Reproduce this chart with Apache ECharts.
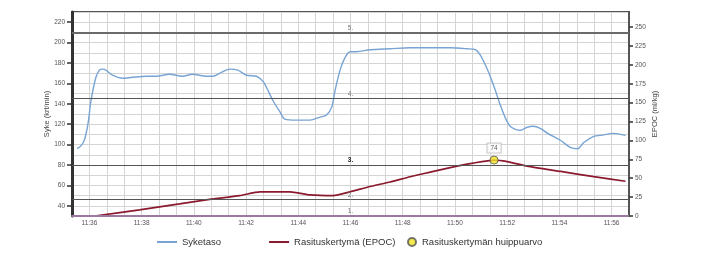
<!DOCTYPE html>
<html>
<head>
<meta charset="utf-8">
<script src="https://cdn.jsdelivr.net/npm/echarts@6/dist/echarts.min.js"></script>
<style>
html,body{margin:0;padding:0;background:#fff;}
#c{width:706px;height:262px;}
</style>
</head>
<body>
<div id="c"></div>
<script>
// ---- data ----
const hrTimes = ['11:35:32','11:35:41','11:35:48','11:35:54','11:35:58','11:36:04','11:36:15','11:36:23','11:36:30','11:36:38',
  '11:36:53','11:37:16','11:37:39','11:38:11','11:38:34','11:39:04','11:39:34','11:39:57','11:40:29','11:40:43',
  '11:41:04','11:41:22','11:41:41','11:42:01','11:42:24','11:42:39','11:42:47','11:43:02','11:43:18','11:43:29',
  '11:43:56','11:44:27','11:44:50','11:45:05','11:45:17','11:45:24','11:45:36','11:45:47','11:45:59','11:46:14',
  '11:46:45','11:47:31','11:48:17','11:49:03','11:49:49','11:50:28','11:50:47','11:50:58','11:51:10','11:51:21',
  '11:51:33','11:51:44','11:51:56','11:52:07','11:52:19','11:52:30','11:52:46','11:53:00','11:53:16','11:53:33',
  '11:54:03','11:54:26','11:54:42','11:54:56','11:55:19','11:55:35','11:56:05','11:56:32'];
const hrValues = [96,99,104,114,124,144,166,173,174,173,
  168,165,166,167,167,169,167,169,167,167,
  171,174,173,168,167,162,156,143,132,125,
  124,124,127,129,137,152,173,185,191,191,
  193,194,195,195,195,194,193,188,178,167,
  153,139,126,118,115,114,117,118,116,111,
  104,97,96,102,108,109,111,109];

const epocTimes = ['11:36:12','11:37:55','11:39:27','11:40:36','11:41:45','11:42:32','11:43:41','11:44:27','11:45:20','11:45:59',
  '11:46:45','11:47:31','11:48:17','11:49:03','11:49:49','11:50:42','11:51:30','11:52:00','11:52:46','11:54:03',
  '11:55:19','11:56:32'];
const epocValues = [0,8,16,22,27,32,32,28,27,32,
  39,45,52,58,64,70,74,72,66,59,
  52,46];

const peakTime = '11:51:30';
const peakValue = 74;

const zoneValues = [210,145,80,46,30];
const zoneNames = ['5.','4.','3.','2.','1.'];

const hrTicks = [40,60,80,100,120,140,160,180,200,220];
const epocTicks = [0,25,50,75,100,125,150,175,200,225,250];

const xStart = '11:35:20';
const xEnd = '11:56:40';

const seriesNames = ['Syketaso','Rasituskertymä (EPOC)','Rasituskertymän huippuarvo'];

// ---- helpers ----
function toSec(t){const p=t.split(':').map(Number);return p[0]*3600+p[1]*60+p[2];}
function fmt(v){const h=Math.floor(v/3600),m=Math.floor((v%3600)/60);return h+':'+(m<10?'0':'')+m;}
const zip=(ts,vs)=>ts.map((t,i)=>[toSec(t),vs[i]]);

const FONT='"Liberation Sans", Arial, sans-serif';
const chart = echarts.init(document.getElementById('c'), null, {renderer:'canvas'});

const zoneData = zoneValues.map((v,i)=>{
  const o={yAxis:v,label:{formatter:zoneNames[i]}};
  if(i===0){o.lineStyle={width:2,color:'#6a6a6a'};}
  if(i===2){o.label={formatter:zoneNames[i],fontWeight:'bold',color:'#222'};}
  if(i===4){o.lineStyle={width:2,color:'#9a7a9e'};}
  return o;
});

chart.setOption({
  animation:false,
  backgroundColor:'#fff',
  textStyle:{fontFamily:FONT},
  grid:{left:72,right:77,top:12,bottom:46,show:true,borderColor:'#555',borderWidth:2,backgroundColor:'transparent'},
  legend:[{
    left:152,top:232,itemWidth:20,itemHeight:2,itemGap:48,icon:'rect',
    textStyle:{fontSize:9.5,color:'#333',fontFamily:FONT},
    data:[seriesNames[0],seriesNames[1]]
  },{
    left:402,top:232,itemWidth:10,itemHeight:8,
    textStyle:{fontSize:9.5,color:'#333',fontFamily:FONT},
    data:[{name:seriesNames[2],icon:'circle'}]
  }],
  xAxis:{
    type:'value',min:toSec(xStart),max:toSec(xEnd),interval:40,
    axisLine:{show:true,lineStyle:{color:'#9a7a9e',width:2}},
    axisTick:{show:false},
    axisLabel:{fontSize:6.5,color:'#555',margin:4,formatter:v=>(v%120===0?fmt(v):'')},
    splitLine:{show:true,lineStyle:{color:'#d4d4d4',width:1}}
  },
  yAxis:[{
    type:'value',position:'left',min:30,max:230,
    name:'Syke (krt/min)',nameLocation:'middle',nameRotate:90,nameGap:21,nameMoveOverlap:false,
    nameTextStyle:{fontSize:7.5,color:'#444'},
    axisLine:{show:true,lineStyle:{color:'#333',width:3}},
    axisTick:{show:true,length:5,customValues:hrTicks,lineStyle:{color:'#333',width:1.5}},
    axisLabel:{fontSize:6.5,color:'#555',margin:7,customValues:hrTicks},
    splitLine:{show:false}
  },{
    type:'value',position:'right',min:0,max:270,
    name:'EPOC (ml/kg)',nameLocation:'middle',nameRotate:90,nameGap:22,nameMoveOverlap:false,
    nameTextStyle:{fontSize:7.5,color:'#444'},
    axisLine:{show:true,lineStyle:{color:'#555',width:2}},
    axisTick:{show:true,length:4,customValues:epocTicks,lineStyle:{color:'#333',width:1.5}},
    axisLabel:{fontSize:6.5,color:'#555',margin:6,customValues:epocTicks},
    splitLine:{show:false}
  },{
    type:'value',position:'left',min:30,max:230,interval:10,
    axisLine:{show:false},axisTick:{show:false},axisLabel:{show:false},
    splitLine:{show:true,lineStyle:{color:'#d4d4d4',width:1}}
  }],
  series:[{
    name:seriesNames[0],type:'line',yAxisIndex:0,symbol:'none',smooth:0.3,
    lineStyle:{color:'#78a4d4',width:1.4},itemStyle:{color:'#78a4d4'},
    data:zip(hrTimes,hrValues),z:3,
    markLine:{
      silent:true,symbol:'none',
      lineStyle:{type:'solid',color:'#555',width:1},
      label:{position:'middle',fontSize:6.5,color:'#777',distance:1},
      data:zoneData
    }
  },{
    name:seriesNames[1],type:'line',yAxisIndex:1,symbol:'none',smooth:0.2,
    lineStyle:{color:'#8b1a2e',width:1.7},itemStyle:{color:'#8b1a2e'},
    data:zip(epocTimes,epocValues),z:4
  },{
    name:seriesNames[2],type:'scatter',yAxisIndex:1,symbol:'circle',symbolSize:8,
    itemStyle:{color:'#f2e424',borderColor:'#555',borderWidth:1},
    label:{show:true,position:'top',distance:3,fontSize:6.5,color:'#333',
      backgroundColor:'#fff',borderColor:'#bbb',borderWidth:1,padding:[1,3,1,3],
      formatter:p=>p.value[1]},
    data:[[toSec(peakTime),peakValue]],z:5
  }]
});
</script>
</body>
</html>
